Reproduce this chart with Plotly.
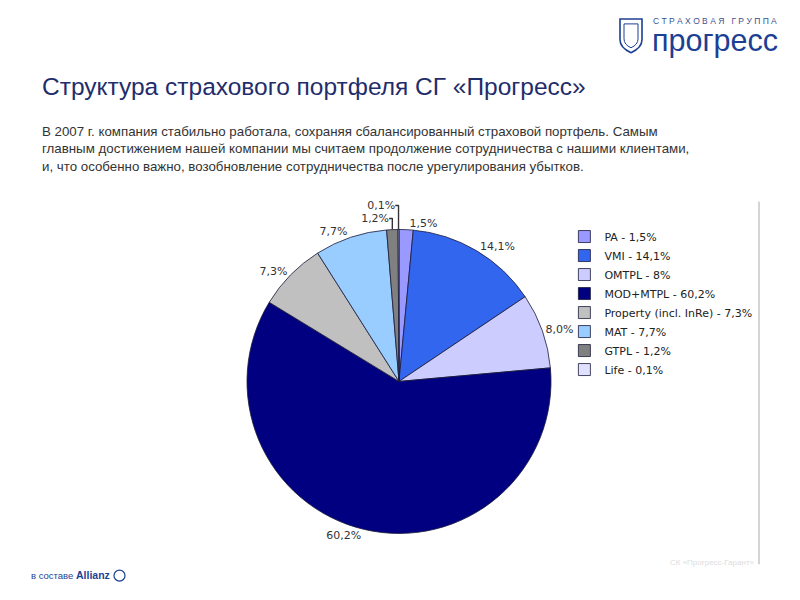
import plotly.graph_objects as go

categories = ["PA", "VMI", "OMTPL", "MOD+MTPL", "Property (incl. InRe)", "MAT", "GTPL", "Life"]
legend_pct = ["1,5%", "14,1%", "8%", "60,2%", "7,3%", "7,7%", "1,2%", "0,1%"]
label_pct = ["1,5%", "14,1%", "8,0%", "60,2%", "7,3%", "7,7%", "1,2%", "0,1%"]
values = [1.5, 14.1, 8.0, 60.2, 7.3, 7.7, 1.2, 0.1]
colors = ["#9999ff", "#3366ee", "#ccccff", "#000080", "#c0c0c0", "#99ccff", "#808080", "#e0e0ff"]

legend_names = [f"{c} - {p}" for c, p in zip(categories, legend_pct)]

# page offset (default body margin) and effective rendered height
OFF = 8
H_EFF = 593


def X(px):
    return (px - OFF) / 800


def Y(py):
    return 1 - (py - OFF) / H_EFF


fig = go.Figure()
fig.add_trace(go.Pie(
    labels=legend_names,
    values=values,
    text=label_pct,
    textinfo="text",
    textposition="outside",
    sort=False,
    direction="clockwise",
    rotation=0,
    marker=dict(colors=colors, line=dict(color="#1a1a3a", width=0.8)),
    textfont=dict(family="DejaVu Sans", size=11, color="#333333"),
    domain=dict(x=[X(247), X(551)], y=[Y(384) - 0.31, Y(384) + 0.31]),
    hoverinfo="label",
))

fig.update_layout(
    width=800, height=600,
    margin=dict(l=0, r=0, t=0, b=0),
    paper_bgcolor="white",
    plot_bgcolor="white",
    showlegend=True,
    legend=dict(
        x=0.6955, y=0.6366, xanchor="left", yanchor="top",
        font=dict(family="DejaVu Sans", size=11, color="#222222"),
        tracegroupgap=0, itemwidth=30, bgcolor="rgba(0,0,0,0)",
    ),
)

fig.add_annotation(text="Структура страхового портфеля СГ «Прогресс»",
                   x=X(40), y=Y(87), xref="paper", yref="paper",
                   xanchor="left", yanchor="middle", showarrow=False,
                   font=dict(family="Liberation Sans", size=24.5, color="#1f2d6b"))
para = ("В 2007 г. компания стабильно работала, сохраняя сбалансированный страховой портфель. Самым<br>"
        "главным достижением нашей компании мы считаем продолжение сотрудничества с нашими клиентами,<br>"
        "и, что особенно важно, возобновление сотрудничества после урегулирования убытков.")
fig.add_annotation(text=para, x=X(40), y=Y(123), xref="paper", yref="paper",
                   xanchor="left", yanchor="top", align="left", showarrow=False,
                   font=dict(family="Liberation Sans", size=13.3, color="#333333"))
# logo texts
fig.add_annotation(text="С Т Р А Х О В А Я   Г Р У П П А", x=X(651), y=Y(21), xref="paper", yref="paper",
                   xanchor="left", yanchor="middle", showarrow=False,
                   font=dict(family="Liberation Sans", size=8.5, color="#3a4f8f"))
fig.add_annotation(text="прогресс", x=X(650), y=Y(41), xref="paper", yref="paper",
                   xanchor="left", yanchor="middle", showarrow=False,
                   font=dict(family="Liberation Sans", size=30.5, color="#1c3f94"))
fig.add_annotation(text="<span style='font-size:9.5px'>в составе </span><b>Allianz</b>",
                   x=X(29), y=Y(579), xref="paper", yref="paper",
                   xanchor="left", yanchor="middle", showarrow=False,
                   font=dict(family="Liberation Sans", size=10.5, color="#1c3f94"))
fig.add_annotation(text="СК «Прогресс-Гарант»", x=X(757), y=Y(566), xref="paper", yref="paper",
                   xanchor="right", yanchor="middle", showarrow=False,
                   font=dict(family="Liberation Sans", size=8, color="#dddddd"))

shapes = [
    dict(type="line", xref="paper", yref="paper", x0=X(759), x1=X(759), y0=Y(203), y1=Y(568),
         line=dict(color="#aaaaaa", width=1)),
    dict(type="path", xref="paper", yref="paper",
         path=f"M {X(620)} {Y(19)} L {X(642)} {Y(19)} L {X(642)} {Y(40)} Q {X(642)} {Y(48)} {X(631)} {Y(53)} Q {X(620)} {Y(48)} {X(620)} {Y(40)} Z",
         line=dict(color="#1c3f94", width=1.6), fillcolor="rgba(0,0,0,0)"),
    dict(type="path", xref="paper", yref="paper",
         path=f"M {X(624)} {Y(24)} L {X(638)} {Y(24)} L {X(638)} {Y(39)} Q {X(638)} {Y(45)} {X(631)} {Y(48)} Q {X(624)} {Y(45)} {X(624)} {Y(39)} Z",
         line=dict(color="#1c3f94", width=1), fillcolor="rgba(0,0,0,0)"),
    dict(type="circle", xref="paper", yref="paper", x0=X(114), x1=X(125), y0=Y(585), y1=Y(574),
         line=dict(color="#1c3f94", width=1.2)),
]
fig.update_layout(shapes=shapes)

fig.write_html("out.html", config={"displayModeBar": False})
